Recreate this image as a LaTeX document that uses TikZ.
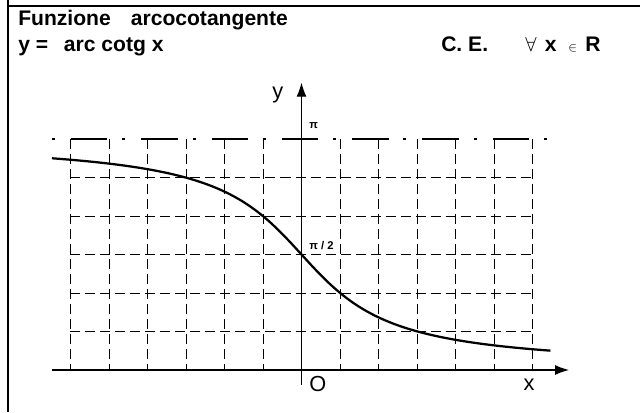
\documentclass[tikz,border=0pt]{standalone}
\usepackage{fontspec}
\setmainfont{Liberation Sans}
\usetikzlibrary{arrows.meta}

\begin{document}
\begin{tikzpicture}[
        x=0.9625cm, y=0.9625cm,
        txt/.style={anchor=base west, inner sep=0pt, font=\fontsize{15}{18}\selectfont\bfseries},
        lbl/.style={anchor=base west, inner sep=0pt, font=\fontsize{15.5}{18}\selectfont},
        pilbl/.style={anchor=base west, inner sep=0pt, font=\fontsize{8}{9}\selectfont\bfseries},
        frame/.style={line width=1.2pt},
        gridline/.style={line width=0.6pt, dash pattern=on 0.25cm off 0.125cm},
        dashdot/.style={line width=1.6pt, dash pattern=on 0.075cm off 0.4cm on 0.9125cm off 0.37cm},
        axis/.style={line width=0.8pt, -{Latex[length=0.35cm, width=0.25cm]}},
        curve/.style={line width=1.6pt}
    ]
    \useasboundingbox (-7.831,-1.091) rectangle (8.792,9.610);

    % Frame
    \draw[frame] (-7.623,9.610) -- (-7.623,-1.091);
    \draw[frame] (-7.623,9.455) -- (8.792,9.455);

    % Header
    \node[txt] (title) at (-7.364,8.935) {Funzione\hspace{0.95em}arcocotangente};
    \node[txt] (eq) at (-7.364,8.260) {y =\hspace{0.75em}arc cotg x};
    \node[txt] (ce) at (3.623,8.260) {C. E.};
    \node[txt] (dom) at (5.805,8.260) {$\forall$\hspace{0.4em}x\hspace{0.55em}{\small$\in$}\hspace{0.4em}R};

    % Grid
    \foreach \i in {-6,...,6}
        \draw[gridline] (\i,6) -- (\i,0);
    \foreach \j in {1,...,5}
        \draw[gridline] (-6,\j) -- (6,\j);

    % Asymptote y = pi
    \coordinate (asl) at (-6.481,6);
    \coordinate (asr) at (6.429,6);
    \draw[dashdot] (asl) -- (asr);

    % Axes
    \coordinate (xs) at (-6.481,0);
    \coordinate (xe) at (6.948,0);
    \coordinate (ys) at (0,-0.39);
    \coordinate (ye) at (0,7.462);
    \draw[axis] (xs) -- (xe);
    \draw[axis] (ys) -- (ye);

    \node[lbl] (ylab) at (-0.766,7.052) {y};
    \node[lbl] (olab) at (0.195,-0.571) {O};
    \node[lbl] (xlab) at (5.761,-0.545) {x};
    \node[pilbl] (pi) at (0.195,6.278) {π};
    \node[pilbl] (pihalf) at (0.195,3.117) {π / 2};

    % Curve
    \draw[curve] plot[domain=-6.481:6.467, samples=120, smooth] (\x, {3 - atan(\x/1.74)/30});
\end{tikzpicture}
\end{document}
